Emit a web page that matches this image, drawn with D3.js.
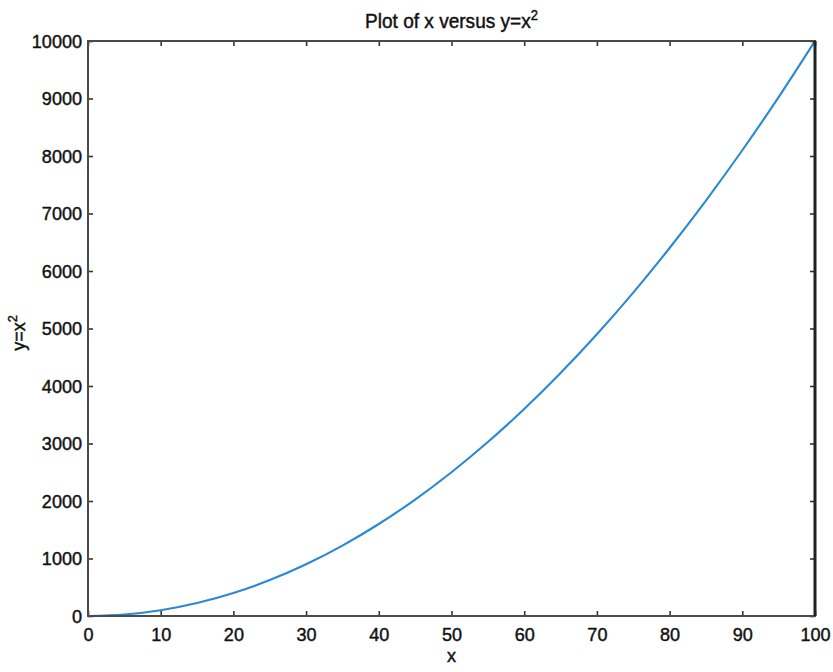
<!DOCTYPE html>
<html><head><meta charset="utf-8">
<script src="https://cdn.jsdelivr.net/npm/d3@7"></script>
<style>
body{margin:0;background:#fff;}
text{font-family:"Liberation Sans",Arial,sans-serif;fill:#111;stroke:#111;stroke-width:0.45px;}
</style></head><body>
<svg id="c" width="833" height="672"></svg>
<script>
(function(){
const xValues = [0,5,10,15,20,25,30,35,40,45,50,55,60,65,70,75,80,85,90,95,100];
const yValues = [0,25,100,225,400,625,900,1225,1600,2025,2500,3025,3600,4225,4900,5625,6400,7225,8100,9025,10000];
const xTicks = [0,10,20,30,40,50,60,70,80,90,100];
const yTicks = [0,1000,2000,3000,4000,5000,6000,7000,8000,9000,10000];
const titleText = "Plot of x versus y=x";
const xLabel = "x";
const yLabel = "y=x";

const svg = d3.select("#c");
const L=88,R=815,T=41,B=616;
const x = d3.scaleLinear().domain([0,100]).range([L,R]);
const y = d3.scaleLinear().domain([0,10000]).range([B,T]);
const axisCol="#4a4a4a";
const fs=19;
const sx=0.95;

const pts = xValues.map((v,i)=>[v,yValues[i]]);
svg.append("path").datum(pts)
  .attr("d", d3.line().x(d=>x(d[0])).y(d=>y(d[1])).curve(d3.curveMonotoneX))
  .attr("fill","none").attr("stroke","#2b88d4").attr("stroke-width",2.1);

const gB = svg.append("g").attr("transform",`translate(0,${B})`)
  .call(d3.axisBottom(x).tickValues(xTicks).tickSize(-5).tickPadding(11.5).tickFormat(d3.format("d")));
const gL = svg.append("g").attr("transform",`translate(${L},0)`)
  .call(d3.axisLeft(y).tickValues(yTicks).tickSize(-5).tickPadding(6).tickFormat(d3.format("d")));
const gT = svg.append("g").attr("transform",`translate(0,${T})`)
  .call(d3.axisTop(x).tickValues(xTicks).tickSize(-5).tickFormat(""));
const gR = svg.append("g").attr("transform",`translate(${R},0)`)
  .call(d3.axisRight(y).tickValues(yTicks).tickSize(-5).tickFormat(""));
[gB,gL,gT,gR].forEach(g=>{
  g.select(".domain").remove();
  g.selectAll("line").attr("stroke","#333").attr("stroke-width",1.6);
  g.selectAll("text").attr("font-size",fs).attr("fill","#111")
   .style("font-family",'"Liberation Sans",Arial,sans-serif');
});
gB.selectAll("text").attr("dy","0.71em").attr("transform",`scale(${sx},1)`);
gL.selectAll("text").attr("x",-6/sx).attr("transform",`scale(${sx},1)`);
svg.append("rect").attr("x",L).attr("y",T).attr("width",R-L).attr("height",B-T)
  .attr("fill","none").attr("stroke",axisCol).attr("stroke-width",2);
svg.append("line").attr("x1",R).attr("x2",R).attr("y1",T).attr("y2",B)
  .attr("stroke","#222").attr("stroke-width",3);

const t = svg.append("text").attr("transform",`translate(${(L+R)/2},28) scale(0.93,1)`)
  .attr("text-anchor","middle").attr("font-size",20.5);
t.append("tspan").text(titleText);
t.append("tspan").attr("font-size",14).attr("dy",-8).text("2");
svg.append("text").attr("transform",`translate(${(L+R)/2},662) scale(${sx},1)`).attr("text-anchor","middle").attr("font-size",fs).text(xLabel);
const yl = svg.append("text").attr("transform",`translate(25,333) rotate(-90) scale(${sx},1)`).attr("text-anchor","middle").attr("font-size",fs);
yl.append("tspan").text(yLabel);
yl.append("tspan").attr("font-size",13.5).attr("dy",-8).text("2");
})();
</script></body></html>
